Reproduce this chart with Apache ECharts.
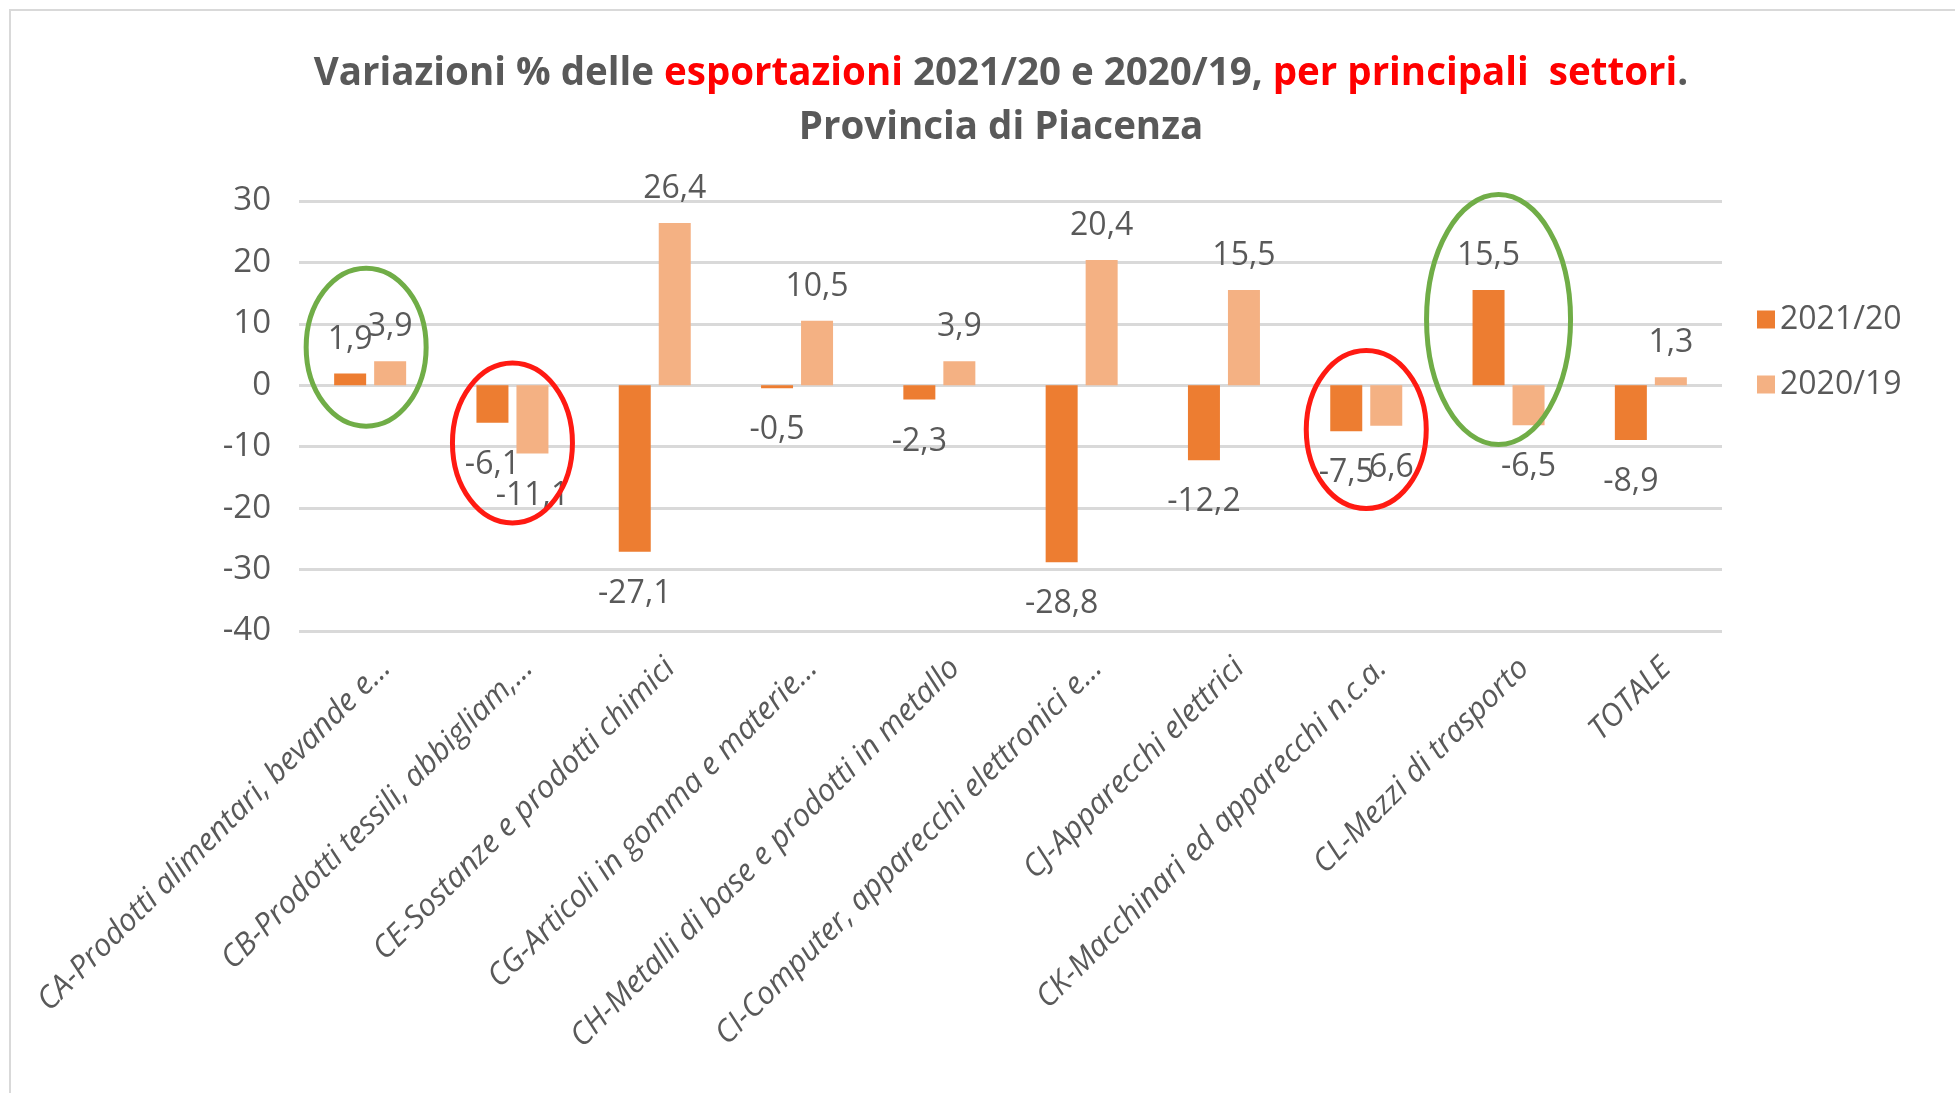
<!DOCTYPE html>
<html>
<head>
<meta charset="utf-8">
<script src="https://cdn.jsdelivr.net/npm/echarts@6/dist/echarts.min.js"></script>
<style>
  html, body { margin: 0; padding: 0; background: #fff; }
  #chart { width: 1955px; height: 1093px; }
</style>
</head>
<body>
<div id="chart"></div>
<script>
// dati
const categories = [
  'CA-Prodotti alimentari, bevande e...',
  'CB-Prodotti tessili, abbigliam,...',
  'CE-Sostanze e prodotti chimici',
  'CG-Articoli in gomma e materie...',
  'CH-Metalli di base e prodotti in metallo',
  'CI-Computer, apparecchi elettronici e...',
  'CJ-Apparecchi elettrici',
  'CK-Macchinari ed apparecchi n.c.a.',
  'CL-Mezzi di trasporto',
  'TOTALE'
]
const seriesNames = ['2021/20', '2020/19']
const var2021 = [1.9, -6.1, -27.1, -0.5, -2.3, -28.8, -12.2, -7.5, 15.5, -8.9]
const var2020 = [3.9, -11.1, 26.4, 10.5, 3.9, 20.4, 15.5, -6.6, -6.5, 1.3]
const yTicks = [-40, -30, -20, -10, 0, 10, 20, 30]

// ellissi di evidenziazione: categoria, valore al centro
const highlights = [
  { cat: 0, val: 6.2, dx: -4, rx: 60, ry: 79, color: '#70AD47' },
  { cat: 1, val: -9.4, dx: 0, rx: 60, ry: 80, color: '#FF1A12' },
  { cat: 7, val: -7.2, dx: 0, rx: 60, ry: 79, color: '#FF1A12' },
  { cat: 8, val: 10.7, dx: -10, rx: 72, ry: 125, color: '#70AD47' }
]

const FONT = '"Open Sans", sans-serif'
const GREY = '#595959'

const fmt = (v) => String(v).replace('.', ',')
const toItems = (arr) =>
  arr.map((v) => ({
    value: v,
    label: v >= 0 ? { position: 'top', distance: 18 } : { position: 'bottom', distance: 26 }
  }))

const chart = echarts.init(document.getElementById('chart'))

const barLabel = {
  show: true,
  color: GREY,
  fontFamily: FONT,
  fontSize: 32,
  formatter: (p) => fmt(p.value)
}

const option = {
  animation: false,
  backgroundColor: '#fff',
  title: {
    left: 996,
    top: 42,
    textAlign: 'center',
    text:
      '{g|Variazioni % delle }{r|esportazioni}{g| 2021/20 e 2020/19, }{r|per principali  settori}{g|.}\n{g|Provincia di Piacenza}',
    textStyle: {
      rich: {
        g: { color: GREY, fontFamily: FONT, fontWeight: 'bold', fontSize: 38.5, lineHeight: 54 },
        r: { color: '#FF0000', fontFamily: FONT, fontWeight: 'bold', fontSize: 38.5, lineHeight: 54 }
      }
    }
  },
  legend: {
    orient: 'vertical',
    left: 1752,
    top: 298,
    icon: 'rect',
    itemWidth: 18,
    itemHeight: 18,
    itemGap: 32,
    textStyle: { color: GREY, fontFamily: FONT, fontSize: 32, lineHeight: 33 },
    data: seriesNames
  },
  grid: { left: 299, right: 233, top: 201, bottom: 462 },
  xAxis: {
    type: 'category',
    data: categories,
    axisLine: { show: false, onZero: false },
    axisTick: { show: false },
    axisLabel: {
      interval: 0,
      rotate: 45,
      margin: 48,
      color: GREY,
      fontFamily: FONT,
      fontStyle: 'italic',
      fontSize: 31,
      padding: [0, -22, 0, 0]
    }
  },
  yAxis: {
    type: 'value',
    min: yTicks[0],
    max: yTicks[yTicks.length - 1],
    interval: 10,
    axisLine: { show: false },
    axisTick: { show: false },
    axisLabel: { color: GREY, fontFamily: FONT, fontSize: 33, margin: 28 },
    splitLine: { lineStyle: { color: '#D9D9D9', width: 3 } }
  },
  series: [
    {
      name: seriesNames[0],
      type: 'bar',
      data: toItems(var2021),
      barWidth: 32,
      barGap: '25%',
      itemStyle: { color: '#ED7D31' },
      label: barLabel
    },
    {
      name: seriesNames[1],
      type: 'bar',
      data: toItems(var2020),
      barWidth: 32,
      itemStyle: { color: '#F4B183' },
      label: barLabel
    }
  ]
}

chart.setOption(option)

// cornice e ellissi
const graphics = [
  {
    type: 'rect',
    shape: { x: 10, y: 10, width: 2000, height: 1200 },
    style: { fill: 'none', stroke: '#D9D9D9', lineWidth: 2 },
    silent: true,
    z: -1
  }
]
highlights.forEach((h) => {
  const [cx, cy] = chart.convertToPixel({ xAxisIndex: 0, yAxisIndex: 0 }, [h.cat, h.val])
  graphics.push({
    type: 'ellipse',
    shape: { cx: cx + h.dx, cy: cy, rx: h.rx, ry: h.ry },
    style: { fill: 'none', stroke: h.color, lineWidth: 5 },
    z: 100
  })
})
chart.setOption({ graphic: graphics })
</script>
</body>
</html>
